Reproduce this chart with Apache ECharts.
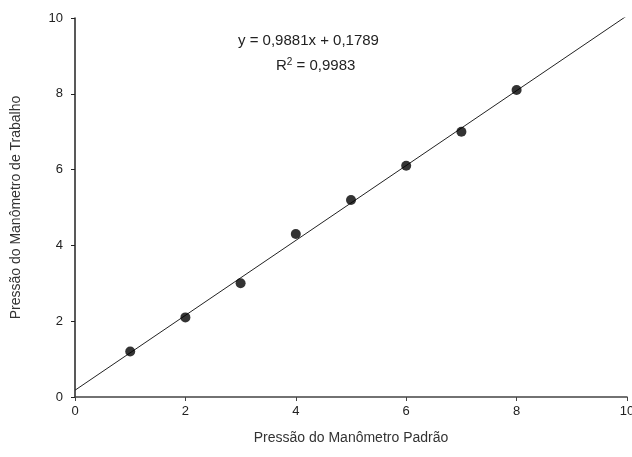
<!DOCTYPE html>
<html>
<head>
<meta charset="utf-8">
<script src="https://cdn.jsdelivr.net/npm/echarts@6/dist/echarts.min.js"></script>
<style>
  html, body { margin: 0; padding: 0; background: #fff; }
  #chart { width: 632px; height: 457px; }
</style>
</head>
<body>
<div id="chart"></div>
<script>
const padrao = [1, 2, 3, 4, 5, 6, 7, 8];
const trabalho = [1.2, 2.1, 3.0, 4.3, 5.2, 6.1, 7.0, 8.1];
const slope = 0.9881;
const intercept = 0.1789;
const fitX = [0, 10];

const chart = echarts.init(document.getElementById("chart"));
const font = "Liberation Sans, Arial, sans-serif";

chart.setOption({
  animation: false,
  textStyle: { fontFamily: font },
  grid: { left: 75, right: 5, top: 18, bottom: 60, containLabel: false, outerBoundsMode: "none" },
  xAxis: {
    type: "value",
    min: 0, max: 10, interval: 2,
    name: "Pressão do Manômetro Padrão",
    nameLocation: "middle",
    nameGap: 34,
    nameTextStyle: { fontSize: 14, color: "#333", fontFamily: font },
    axisLine: { show: true, onZero: false, lineStyle: { color: "#444", width: 1.5 } },
    axisTick: { show: true, length: 4, lineStyle: { color: "#444" } },
    axisLabel: { fontSize: 13, color: "#222", margin: 8, fontFamily: font },
    splitLine: { show: false }
  },
  yAxis: {
    type: "value",
    min: 0, max: 10, interval: 2,
    name: "Pressão do Manômetro de Trabalho",
    nameLocation: "middle",
    nameGap: 52,
    nameTextStyle: { fontSize: 14, color: "#333", fontFamily: font },
    axisLine: { show: true, onZero: false, lineStyle: { color: "#222", width: 1.5 } },
    axisTick: { show: true, length: 4, lineStyle: { color: "#222" } },
    axisLabel: { fontSize: 13, color: "#222", margin: 12, fontFamily: font },
    splitLine: { show: false }
  },
  graphic: [
    {
      type: "text",
      left: 238, top: 33,
      style: {
        text: "y = 0,9881x + 0,1789",
        font: "15px " + font,
        fill: "#222"
      }
    },
    {
      type: "text",
      left: 276, top: 57,
      style: {
        text: "R{sup|2} = 0,9983",
        font: "15px " + font,
        fill: "#222",
        rich: {
          sup: { fontSize: 10, verticalAlign: "top", padding: [0, 0, 8, 0], fill: "#222" }
        }
      }
    }
  ],
  series: [
    {
      type: "line",
      data: fitX.map(x => [x, slope * x + intercept]),
      showSymbol: false,
      lineStyle: { color: "#222", width: 1 },
      z: 2
    },
    {
      type: "scatter",
      data: padrao.map((x, i) => [x, trabalho[i]]),
      symbolSize: 10,
      itemStyle: { color: "#000" },
      z: 3
    }
  ]
});
</script>
</body>
</html>
